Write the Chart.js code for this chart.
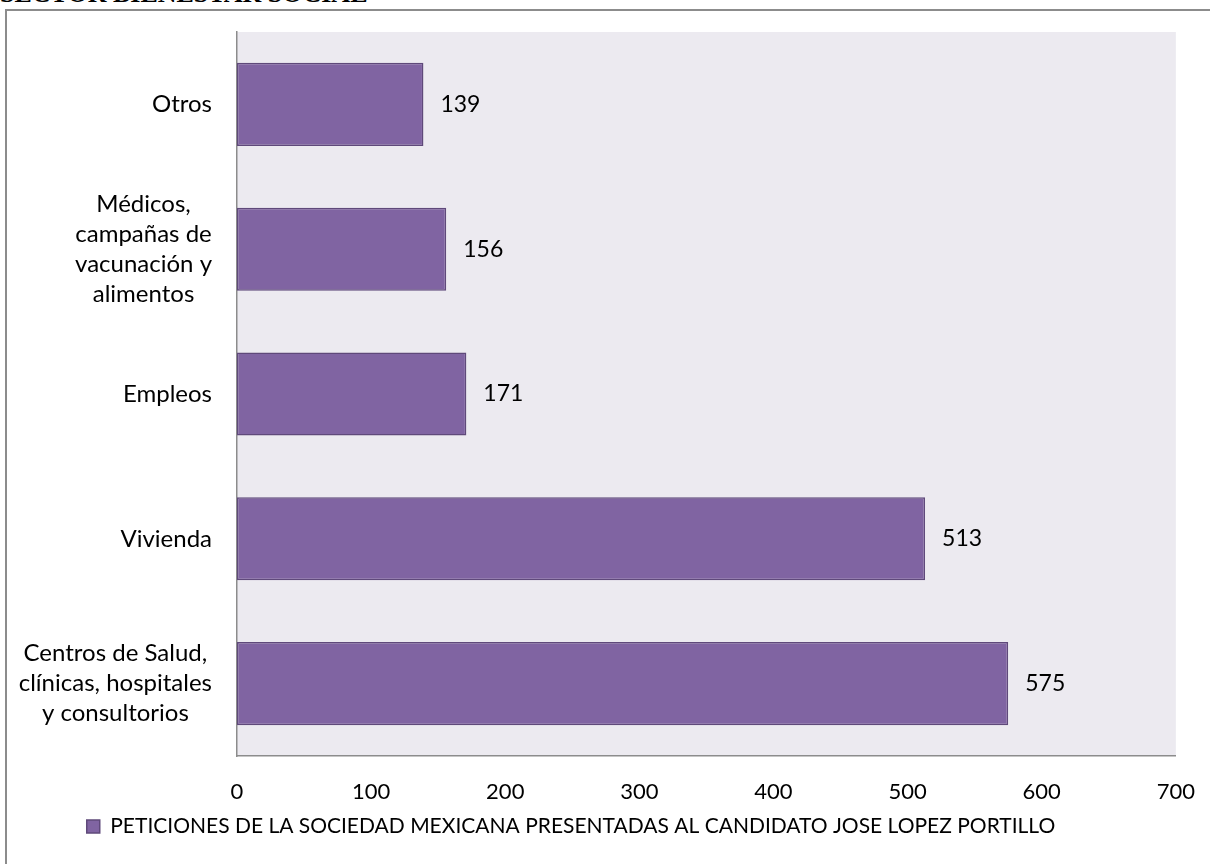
<!DOCTYPE html>
<html lang="es">
<head>
<meta charset="UTF-8">
<title>Sector Bienestar Social</title>
<script src="https://cdn.jsdelivr.net/npm/chart.js@4"></script>
<style>
    html, body {
        margin: 0;
        width: 1210px;
        height: 864px;
        overflow: hidden;
        background: #fff;
        position: relative;
    }
    #titulo {
        position: absolute;
        left: 0;
        top: -19px;
        font: bold 26px "Liberation Serif", "Times New Roman", serif;
        line-height: 26px;
        white-space: nowrap;
        color: #000;
    }
    #marco {
        position: absolute;
        left: 5px;
        top: 9px;
        width: 1230px;
        height: 900px;
        border: 2px solid #8c8c8c;
    }
    #grafica {
        position: absolute;
        left: -48px;
        top: 0;
    }
</style>
</head>
<body>
<div id="titulo">SECTOR BIENESTAR SOCIAL</div>
<div id="marco"></div>
<canvas id="grafica" width="1258" height="864"></canvas>

<script>
    // Categorías (de arriba hacia abajo) y valores
    const categorias = [
        ['Otros'],
        ['Médicos,', 'campañas de', 'vacunación y', 'alimentos'],
        ['Empleos'],
        ['Vivienda'],
        ['Centros de Salud,', 'clínicas, hospitales', 'y consultorios']
    ];
    const peticiones = [139, 156, 171, 513, 575];
    const ticksX = [0, 100, 200, 300, 400, 500, 600, 700];
    const nombreSerie = 'PETICIONES DE LA SOCIEDAD MEXICANA PRESENTADAS AL CANDIDATO JOSE LOPEZ PORTILLO';

    const fuente = 'Lato, "Open Sans", sans-serif';

    // Fondo lila del área de trazado
    const fondoArea = {
        id: 'fondoArea',
        beforeDraw(chart) {
            const { ctx, chartArea: a } = chart;
            ctx.save();
            ctx.fillStyle = '#ECEAF0';
            ctx.fillRect(a.left, a.top, a.right - a.left, a.bottom - a.top);
            ctx.restore();
        }
    };

    // Etiquetas de categoría: bloque alineado a la derecha, renglones centrados
    const etiquetasY = {
        id: 'etiquetasY',
        afterDraw(chart) {
            const { ctx } = chart;
            const y = chart.scales.y;
            const alto = 30;
            ctx.save();
            ctx.font = '24px ' + fuente;
            ctx.fillStyle = '#000';
            ctx.textBaseline = 'middle';
            ctx.textAlign = 'center';
            categorias.forEach((lineas, i) => {
                const ancho = Math.max(...lineas.map(t => ctx.measureText(t).width));
                const cx = y.right - 25 - ancho / 2;
                const cy = y.getPixelForValue(i);
                const y0 = cy - (lineas.length - 1) * alto / 2;
                lineas.forEach((t, k) => ctx.fillText(t, cx, y0 + k * alto));
            });
            ctx.restore();
        }
    };

    // Valor a la derecha de cada barra
    const valores = {
        id: 'valores',
        afterDatasetsDraw(chart) {
            const { ctx } = chart;
            const meta = chart.getDatasetMeta(0);
            ctx.save();
            ctx.font = '23px ' + fuente;
            ctx.fillStyle = '#000';
            ctx.textBaseline = 'middle';
            ctx.textAlign = 'left';
            meta.data.forEach((barra, i) => {
                ctx.fillText(String(peticiones[i]), barra.x + 17, barra.y);
            });
            ctx.restore();
        }
    };

    new Chart(document.getElementById('grafica'), {
        type: 'bar',
        data: {
            labels: categorias,
            datasets: [{
                label: nombreSerie,
                data: peticiones,
                backgroundColor: '#8064A2',
                borderColor: '#5F497A',
                borderWidth: 1.5,
                borderSkipped: false,
                barPercentage: 1,
                categoryPercentage: 0.574
            }]
        },
        options: {
            indexAxis: 'y',
            responsive: false,
            animation: false,
            layout: { padding: { top: 32, right: 20, bottom: 17, left: 0 } },
            scales: {
                x: {
                    min: 0,
                    max: 700,
                    afterBuildTicks(scale) {
                        scale.ticks = ticksX.map(v => ({ value: v }));
                    },
                    afterFit(scale) { scale.height = 54; },
                    grid: { display: false },
                    border: { display: true, color: '#8c8c8c', width: 1.5 },
                    ticks: {
                        padding: 15,
                        color: '#000',
                        font: { family: fuente, size: 22 }
                    }
                },
                y: {
                    afterFit(scale) { scale.width = 285; },
                    grid: { display: false },
                    border: { display: true, color: '#8c8c8c', width: 1.5 },
                    ticks: { display: false }
                }
            },
            plugins: {
                legend: {
                    position: 'bottom',
                    labels: {
                        boxWidth: 13,
                        boxHeight: 13,
                        padding: 6,
                        color: '#000',
                        font: { family: fuente, size: 21 }
                    }
                },
                tooltip: { enabled: false }
            }
        },
        plugins: [fondoArea, etiquetasY, valores]
    });
</script>
</body>
</html>
